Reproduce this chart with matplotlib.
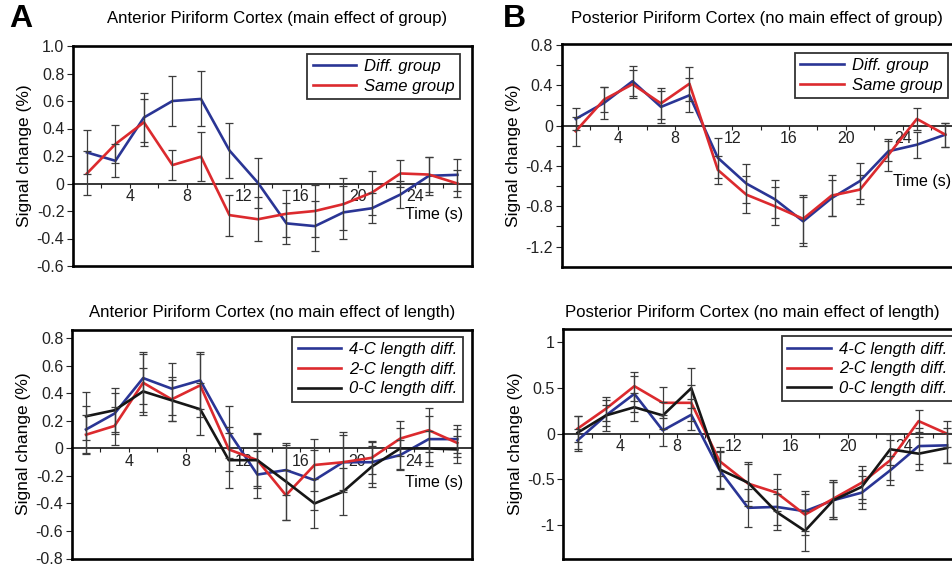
from matplotlib import pyplot as plt
from matplotlib.ticker import MultipleLocator, FixedLocator
import numpy as np

plt.rcParams['font.family'] = ['Liberation Sans', 'DejaVu Sans']

# time points (s)
times = [1, 3, 5, 7, 9, 11, 13, 15, 17, 19, 21, 23, 25, 27]

# A top : anterior, group
a_top_diff = [0.226, 0.165, 0.48, 0.60, 0.615, 0.24, 0.005, -0.29, -0.31, -0.21, -0.18, -0.08, 0.056, 0.063]
a_top_diff_err = [0.16, 0.12, 0.18, 0.18, 0.20, 0.20, 0.18, 0.15, 0.18, 0.19, 0.11, 0.10, 0.14, 0.115]
a_top_same = [0.073, 0.287, 0.445, 0.134, 0.195, -0.23, -0.26, -0.22, -0.20, -0.15, -0.066, 0.073, 0.065, 0.0]
a_top_same_err = [0.16, 0.14, 0.17, 0.11, 0.18, 0.15, 0.16, 0.17, 0.19, 0.19, 0.16, 0.10, 0.13, 0.10]

# B top : posterior, group
b_top_diff = [0.066, 0.225, 0.44, 0.185, 0.30, -0.32, -0.575, -0.73, -0.95, -0.72, -0.55, -0.255, -0.19, -0.09]
b_top_diff_err = [0.11, 0.16, 0.15, 0.16, 0.17, 0.20, 0.19, 0.19, 0.24, 0.18, 0.18, 0.10, 0.13, 0.12]
b_top_same = [-0.056, 0.258, 0.41, 0.22, 0.415, -0.44, -0.685, -0.80, -0.925, -0.695, -0.635, -0.29, 0.066, -0.09]
b_top_same_err = [0.145, 0.12, 0.14, 0.15, 0.17, 0.14, 0.18, 0.19, 0.24, 0.20, 0.14, 0.16, 0.11, 0.12]

# A bottom : anterior, length
a_bot_4c = [0.138, 0.254, 0.512, 0.435, 0.495, 0.12, -0.19, -0.157, -0.23, -0.10, -0.10, -0.048, 0.068, 0.068]
a_bot_4c_err = [0.17, 0.15, 0.19, 0.19, 0.21, 0.19, 0.17, 0.18, 0.22, 0.22, 0.15, 0.11, 0.17, 0.10]
a_bot_2c = [0.10, 0.164, 0.478, 0.357, 0.459, -0.007, -0.085, -0.34, -0.12, -0.10, -0.068, 0.072, 0.133, 0.04]
a_bot_2c_err = [0.14, 0.14, 0.21, 0.16, 0.23, 0.16, 0.19, 0.18, 0.19, 0.20, 0.12, 0.13, 0.16, 0.10]
a_bot_0c = [0.234, 0.278, 0.415, 0.35, 0.285, -0.085, -0.085, -0.24, -0.40, -0.314, -0.133, 0.0, 0.0, -0.007]
a_bot_0c_err = [0.175, 0.16, 0.17, 0.15, 0.19, 0.20, 0.20, 0.28, 0.18, 0.17, 0.15, 0.15, 0.13, 0.10]

# B bottom : posterior, length
b_bot_4c = [-0.073, 0.2, 0.436, 0.036, 0.207, -0.40, -0.81, -0.80, -0.847, -0.727, -0.644, -0.40, -0.135, -0.127]
b_bot_4c_err = [0.12, 0.11, 0.20, 0.17, 0.17, 0.20, 0.21, 0.20, 0.22, 0.20, 0.18, 0.16, 0.20, 0.19]
b_bot_2c = [0.055, 0.273, 0.52, 0.338, 0.338, -0.30, -0.545, -0.644, -0.884, -0.71, -0.535, -0.29, 0.138, 0.0]
b_bot_2c_err = [0.14, 0.13, 0.16, 0.17, 0.20, 0.16, 0.24, 0.20, 0.22, 0.20, 0.18, 0.22, 0.12, 0.14]
b_bot_0c = [0.011, 0.2, 0.29, 0.2, 0.498, -0.39, -0.535, -0.855, -1.062, -0.727, -0.58, -0.17, -0.218, -0.156]
b_bot_0c_err = [0.18, 0.17, 0.15, 0.15, 0.22, 0.20, 0.20, 0.20, 0.22, 0.20, 0.18, 0.17, 0.18, 0.16]

x_tick_vals = [4, 8, 12, 16, 20, 24]
group_names = ["Diff. group", "Same group"]
length_names = ["4-C length diff.", "2-C length diff.", "0-C length diff."]

yticks_a_top = [1.0, 0.8, 0.6, 0.4, 0.2, 0, -0.2, -0.4, -0.6]
ylabels_a_top = ["1.0", "0.8", "0.6", "0.4", "0.2", "0", "-0.2", "-0.4", "-0.6"]
yticks_b_top = [0.8, 0.4, 0, -0.4, -0.8, -1.2]
ylabels_b_top = ["0.8", "0.4", "0", "-0.4", "-0.8", "-1.2"]
yminor_b_top = [0.6, 0.2, -0.2, -0.6, -1.0]
yticks_a_bot = [0.8, 0.6, 0.4, 0.2, 0, -0.2, -0.4, -0.6, -0.8]
ylabels_a_bot = ["0.8", "0.6", "0.4", "0.2", "0", "-0.2", "-0.4", "-0.6", "-0.8"]
yticks_b_bot = [1, 0.5, 0, -0.5, -1]
ylabels_b_bot = ["1", "0.5", "0", "-0.5", "-1"]

col_blue = '#2a3595'
col_red = '#dc2a2e'
col_black = '#161616'
W, H = 953, 567


def px_axes(fig, left, right, top, bottom):
    return fig.add_axes([left / W, 1 - bottom / H, (right - left) / W, (bottom - top) / H])


def setup_panel(ax, ylim, yticks, ylabels, minor_y=None, time_label=None):
    ax.set_xlim(0, 28)
    ax.set_ylim(*ylim)
    for side in ['left', 'right', 'top']:
        ax.spines[side].set_linewidth(1.9)
    # x axis sits on zero line
    ax.spines['bottom'].set_position(('data', 0))
    ax.spines['bottom'].set_linewidth(1.1)
    ax.plot([0, 1], [0, 0], transform=ax.transAxes, color='black', lw=1.9,
            clip_on=False, zorder=5, solid_capstyle='projecting')
    ax.xaxis.set_major_locator(FixedLocator(x_tick_vals))
    ax.xaxis.set_minor_locator(MultipleLocator(2))
    ax.set_xticklabels([str(v) for v in x_tick_vals])
    ax.tick_params(axis='x', which='both', direction='out', length=3, width=0.8,
                   labelsize=11.5, pad=1, colors='#222222')
    ax.set_yticks(yticks)
    ax.set_yticklabels(ylabels)
    if minor_y is not None:
        ax.yaxis.set_minor_locator(FixedLocator(minor_y))
    ax.tick_params(axis='y', which='both', direction='out', length=4, width=0.8,
                   labelsize=11.5, pad=2, colors='#222222')
    ax.set_ylabel("Signal change (%)", fontsize=12.5, labelpad=3)
    if time_label is not None:
        ax.text(time_label[0], time_label[1], "Time (s)", transform=ax.transAxes,
                ha='right', va='center', fontsize=11.5)


def draw_series(ax, values, errors, color, label):
    ax.plot(times, values, color=color, lw=1.9, label=label, zorder=3)
    ax.errorbar(times, values, yerr=errors, fmt='none', ecolor='#3c3c3c',
                elinewidth=0.9, capsize=2.6, capthick=0.9, zorder=4)


def add_legend(ax, x, y):
    leg = ax.legend(loc='upper right', bbox_to_anchor=(x, y), frameon=True,
                    fancybox=False, edgecolor='black', borderaxespad=0,
                    prop={'style': 'italic', 'size': 12}, handlelength=2.6,
                    handletextpad=0.5, labelspacing=0.28, borderpad=0.32)
    leg.get_frame().set_linewidth(1.3)
    leg.set_zorder(6)


fig = plt.figure(figsize=(9.53, 5.67), dpi=100)

# A top
ax1 = px_axes(fig, 72.7, 471.7, 46, 266)
draw_series(ax1, a_top_diff, a_top_diff_err, col_blue, group_names[0])
draw_series(ax1, a_top_same, a_top_same_err, col_red, group_names[1])
setup_panel(ax1, (-0.6, 1.0), yticks_a_top, ylabels_a_top, time_label=(0.978, 0.232))
add_legend(ax1, 0.971, 0.964)

# B top
ax2 = px_axes(fig, 561.5, 959.5, 44.3, 266.7)
draw_series(ax2, b_top_diff, b_top_diff_err, col_blue, group_names[0])
draw_series(ax2, b_top_same, b_top_same_err, col_red, group_names[1])
setup_panel(ax2, (-1.4, 0.806), yticks_b_top, ylabels_b_top, minor_y=yminor_b_top,
            time_label=(0.979, 0.382))
add_legend(ax2, 0.971, 0.962)

# A bottom
ax3 = px_axes(fig, 71.7, 471.6, 329.5, 558.5)
draw_series(ax3, a_bot_4c, a_bot_4c_err, col_blue, length_names[0])
draw_series(ax3, a_bot_2c, a_bot_2c_err, col_red, length_names[1])
draw_series(ax3, a_bot_0c, a_bot_0c_err, col_black, length_names[2])
setup_panel(ax3, (-0.8, 0.865), yticks_a_bot, ylabels_a_bot, time_label=(0.978, 0.33))
add_legend(ax3, 0.978, 0.968)

# B bottom
ax4 = px_axes(fig, 563.3, 961.3, 329, 558.5)
draw_series(ax4, b_bot_4c, b_bot_4c_err, col_blue, length_names[0])
draw_series(ax4, b_bot_2c, b_bot_2c_err, col_red, length_names[1])
draw_series(ax4, b_bot_0c, b_bot_0c_err, col_black, length_names[2])
setup_panel(ax4, (-1.364, 1.145), yticks_b_bot, ylabels_b_bot)
add_legend(ax4, 0.978, 0.968)

# titles and panel letters
fig.text(277 / W, 1 - 19 / H, "Anterior Piriform Cortex (main effect of group)",
         ha='center', va='center', fontsize=12.1)
fig.text(757 / W, 1 - 19 / H, "Posterior Piriform Cortex (no main effect of group)",
         ha='center', va='center', fontsize=12.1)
fig.text(272 / W, 1 - 312 / H, "Anterior Piriform Cortex (no main effect of length)",
         ha='center', va='center', fontsize=12.1)
fig.text(752 / W, 1 - 312 / H, "Posterior Piriform Cortex (no main effect of length)",
         ha='center', va='center', fontsize=12.1)
fig.text(9 / W, 1 - 19 / H, "A", ha='left', va='center', fontsize=23, fontweight='bold')
fig.text(503 / W, 1 - 19 / H, "B", ha='left', va='center', fontsize=23, fontweight='bold')

fig.savefig("out.png", dpi=100)
